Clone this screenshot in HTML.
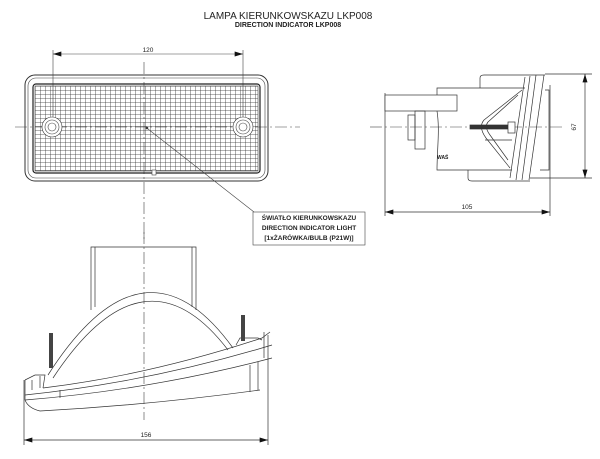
<!DOCTYPE html>
<html><head><meta charset="utf-8"><style>
html,body{margin:0;padding:0;background:#fff;}
svg{display:block;}
text{font-family:"Liberation Sans",sans-serif;fill:#222;}
</style></head><body>
<svg width="600" height="459" viewBox="0 0 600 459" xmlns="http://www.w3.org/2000/svg">
<defs>
<pattern id="g" x="35" y="86" width="5" height="4" patternUnits="userSpaceOnUse">
<path d="M0,0V4M0,0H5" stroke="#333" stroke-width="0.8" fill="none"/>
</pattern>
<marker id="a" viewBox="0 0 10 6" refX="10" refY="3" markerWidth="10" markerHeight="5" orient="auto-start-reverse" markerUnits="userSpaceOnUse"><path d="M0,0L10,3L0,6z" fill="#111"/></marker>
</defs>
<text x="288" y="19" font-size="10" text-anchor="middle">LAMPA KIERUNKOWSKAZU LKP008</text>
<text x="288" y="27" font-size="7" font-weight="bold" text-anchor="middle">DIRECTION INDICATOR LKP008</text>

<g stroke="#444" stroke-width="0.6" fill="none">
<path d="M15,127H300" stroke-dasharray="12,3,2,3"/>
<path d="M144,62V240" stroke-dasharray="12,3,2,3"/>
<path d="M144,232V420" stroke-dasharray="12,3,2,3"/>
<path d="M370,127H565" stroke-dasharray="12,3,2,3"/>
<path d="M53,50V122M243,50V122"/>
<path d="M53,54H243" marker-start="url(#a)" marker-end="url(#a)"/>
<rect x="25" y="75" width="243" height="106" rx="10" stroke="#333" stroke-width="1"/>
<rect x="28" y="78" width="237" height="100" rx="8"/>
<rect x="33" y="84" width="227" height="89" rx="3" stroke="#222" stroke-width="1.2"/>
<rect x="35" y="86" width="223" height="85" fill="url(#g)"/>
<circle cx="52" cy="127" r="10" fill="#fff" stroke="#333"/>
<circle cx="52" cy="127" r="7"/><circle cx="52" cy="127" r="4"/>
<circle cx="243" cy="127" r="10" fill="#fff" stroke="#333"/>
<circle cx="243" cy="127" r="7"/><circle cx="243" cy="127" r="4"/>
<rect x="152" y="170" width="4" height="5" fill="#fff"/>
<circle cx="147" cy="128" r="1" fill="#222"/>
<path d="M148,129L254,212"/>
<rect x="253" y="212" width="112" height="33" fill="#fff"/>
</g>
<text x="309" y="220" font-size="6.5" font-weight="bold" text-anchor="middle">ŚWIATŁO KIERUNKOWSKAZU</text>
<text x="309" y="230" font-size="6.5" font-weight="bold" text-anchor="middle">DIRECTION INDICATOR LIGHT</text>
<text x="309" y="240" font-size="6.5" font-weight="bold" text-anchor="middle">[1xŻARÓWKA/BULB (P21W)]</text>
<text x="148" y="52" font-size="6.5" text-anchor="middle">120</text>

<g stroke="#333" stroke-width="0.7" fill="none">
<path d="M385,93V216M550,85V216"/>
<path d="M385,212H550" marker-start="url(#a)" marker-end="url(#a)"/>
<path d="M545,74H592M530,178H592"/>
<path d="M585,74V178" marker-start="url(#a)" marker-end="url(#a)"/>
<rect x="385" y="95" width="72" height="16" fill="#fff"/>
<path d="M437,95V88H525M437,111C440,130 437,150 437,170H512"/>
<rect x="408" y="115" width="7" height="25"/>
<rect x="415" y="111" width="10" height="38"/>
<path d="M480,88V78Q480,75 484,75H545"/>
<path d="M468,170V178Q468,181 472,181H530"/>
<path d="M525,77L510,178M530,76L516,180M536,75L522,180M544,75L529,180"/>
<path d="M545,90H549V170H540"/>
<path d="M522,90L484,120Q478,127 486,138L510,168M518,95L488,122Q484,127 490,135L508,160"/>
<path d="M485,140H512"/>
<rect x="470" y="125" width="38" height="4" fill="#333"/>
<rect x="508" y="122" width="7" height="11" fill="#fff"/>
</g>
<text x="437" y="159" font-size="5" font-weight="bold">WAŚ</text>
<text x="467" y="209" font-size="6.5" text-anchor="middle">105</text>
<text x="576" y="127" font-size="6.5" text-anchor="middle" transform="rotate(-90 576 127)">67</text>

<g stroke="#333" stroke-width="0.7" fill="none">
<path d="M91,310V247H196V310M95,247V307M192,247V307"/>
<path d="M48,375Q144,225 233,348"/>
<path d="M53,378Q144,240 228,350"/>
<path d="M43,388Q150,375 262,338L270,332"/>
<path d="M25,395Q150,382 272,345"/>
<path d="M25,400Q150,390 272,358"/>
<path d="M40,411Q150,405 260,390"/>
<path d="M25,380V400Q28,408 40,411"/>
<path d="M25,380L35,375H45L43,388"/>
<path d="M32,380V390M40,376V388M60,390V398"/>
<path d="M250,365V392M258,362V390"/>
<path d="M236,345L240,338H258L262,340"/>
<path d="M264,332V358"/>
<path d="M24,380V445M268,335V445"/>
<path d="M24,440H268" marker-start="url(#a)" marker-end="url(#a)"/>
</g>
<rect x="49" y="333" width="4" height="35" fill="#444"/>
<rect x="241" y="315" width="4" height="26" fill="#444"/>
<text x="146" y="437" font-size="6.5" text-anchor="middle">156</text>
</svg>
</body></html>
